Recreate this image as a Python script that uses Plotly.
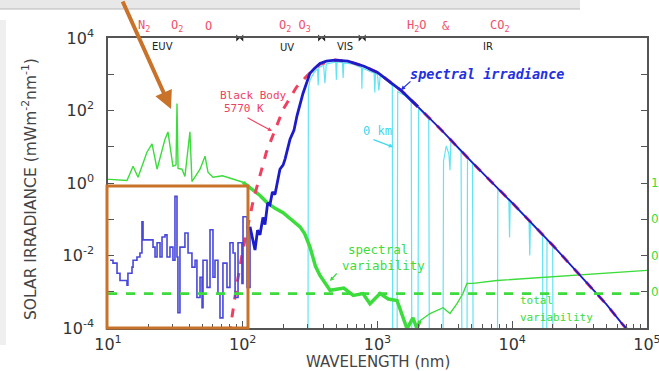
import numpy as np
import plotly.graph_objects as go

# ---------------- data (log10 wavelength [nm], log10 irradiance [mW m-2 nm-1]) ----------------
euv_log_wl = [1.015, 1.037, 1.067, 1.089, 1.141, 1.148, 1.178, 1.186, 1.215, 1.237,
              1.252, 1.260, 1.289, 1.312, 1.334, 1.349, 1.364, 1.386, 1.401, 1.423,
              1.438, 1.460, 1.482, 1.497, 1.512, 1.519, 1.534, 1.571, 1.594, 1.623,
              1.646, 1.660, 1.683, 1.698, 1.705, 1.735, 1.757, 1.779, 1.794, 1.816,
              1.831, 1.853, 1.883, 1.905, 1.928, 1.943, 1.965, 1.994, 2.002, 2.032, 2.054]
euv_log_irr = [-2.13, -2.21, -2.49, -2.69, -2.82, -2.49, -2.32, -2.13, -2.04, -1.93,
               -1.07, -1.57, -1.57, -1.57, -1.77, -2.04, -1.65, -2.04, -1.49, -1.43,
               -2.04, -1.77, -2.13, -0.37, -2.04, -3.58, -1.77, -1.38, -1.93, -2.32,
               -2.13, -3.16, -2.60, -3.44, -2.13, -2.88, -1.29, -2.60, -2.13, -3.05,
               -3.72, -2.21, -2.88, -1.65, -1.93, -3.16, -1.65, -2.77, -0.93, -2.88, -1.21]

irr_log_wl = [2.054, 2.075, 2.091, 2.11, 2.128, 2.15, 2.165, 2.185, 2.202, 2.22,
              2.239, 2.276, 2.30, 2.314, 2.351, 2.38, 2.403, 2.447, 2.499, 2.53,
              2.573, 2.62, 2.685, 2.78, 2.9, 3.0, 3.176, 3.301, 3.477, 3.699,
              4.0, 4.301, 4.477, 4.699, 4.814, 5.0]
irr_log_val = [-1.21, -1.60, -1.85, -1.30, -1.43, -0.95, -1.15, -0.55, -0.60, -0.25,
               -0.32, 0.38, 0.50, 0.66, 1.21, 1.45, 1.86, 2.47, 3.03, 3.15,
               3.30, 3.36, 3.39, 3.36, 3.22, 3.05, 2.55, 2.10, 1.45, 0.58,
               -0.55, -1.72, -2.45, -3.35, -3.88, -4.65]

bb_log_wl = [1.881, 1.903, 1.929, 1.954, 2.0, 2.079, 2.176, 2.254, 2.301, 2.398,
             2.477, 2.573, 2.685, 2.78, 2.9, 3.0, 3.176, 3.301, 3.477, 3.699,
             4.0, 4.301, 4.477, 4.699, 4.814, 5.0]
bb_log_val = [-4.69, -4.10, -3.55, -2.85, -1.87, -0.46, 0.86, 1.60, 2.04, 2.64,
              2.96, 3.28, 3.39, 3.36, 3.22, 3.05, 2.55, 2.10, 1.45, 0.58,
              -0.55, -1.72, -2.45, -3.35, -3.88, -4.65]

surf_log_wl = [2.470, 2.484, 2.487, 2.50, 2.53, 2.555, 2.560, 2.565, 2.60, 2.610,
               2.620, 2.66, 2.690, 2.695, 2.700, 2.740, 2.745, 2.750, 2.82, 2.881,
               2.884, 2.888, 2.95, 2.975, 2.980, 2.985, 3.00, 3.010, 3.020, 3.08,
               3.110, 3.113, 3.145, 3.150, 3.20, 3.250, 3.255, 3.300, 3.305, 3.38,
               3.385, 3.486, 3.490, 3.510, 3.530, 3.538, 3.545, 3.620, 3.627, 3.664,
               3.668, 3.705, 3.710, 3.890, 3.893, 3.975, 3.980, 3.985, 4.125, 4.130,
               4.135, 4.225, 4.228, 4.255, 4.258, 4.30, 4.303, 5.0]
surf_log_val = [-5.0, -5.0, 2.60, 2.85, 3.05, 3.15, 2.70, 3.18, 3.25, 2.75,
                3.28, 3.32, 3.34, 2.85, 3.34, 3.32, 2.90, 3.31, 3.28, 3.18,
                2.60, 3.17, 3.08, 3.03, 2.50, 3.02, 2.99, 2.55, 2.96, 2.80,
                2.68, -5.0, -5.0, 2.52, 2.42, 2.25, -5.0, -5.0, 2.05, 1.76,
                -5.0, -5.0, 0.60, 1.02, 0.80, 0.35, 1.17, 0.86, -5.0, -5.0,
                0.70, 0.54, -5.0, -5.0, -0.17, -0.48, -1.5, -0.52, -1.06, -2.0,
                -1.10, -1.45, -5.0, -5.0, -1.57, -1.74, -5.0, -5.0]

var_log_wl = [1.0, 1.015, 1.141, 1.186, 1.223, 1.289, 1.327, 1.364, 1.423, 1.445,
              1.482, 1.505, 1.512, 1.52, 1.549, 1.571, 1.608, 1.623, 1.683, 1.720,
              1.742, 1.779, 1.85, 1.928, 2.002, 2.076, 2.13, 2.18, 2.24, 2.299,
              2.36, 2.425, 2.46, 2.499, 2.54, 2.573, 2.648, 2.75, 2.82, 2.892,
              2.944, 3.019, 3.08, 3.145, 3.219, 3.263, 3.293, 3.315, 3.390, 3.486,
              3.538, 3.590, 3.634, 3.664, 3.709, 3.887, 4.132, 4.377, 4.629, 5.0]
var_log_val = [0.10, 0.10, 0.07, 0.46, 0.16, 0.85, 1.08, 0.38, 1.21, 1.41,
               0.46, 0.50, 2.19, 0.40, 0.38, 0.18, 1.41, 0.04, 0.38, 0.74,
               0.30, 0.16, 0.20, 0.10, 0.02, -0.18, -0.35, -0.54, -0.70, -0.82,
               -1.00, -1.21, -1.40, -1.77, -2.30, -2.55, -2.96, -2.90, -3.10, -3.05,
               -3.33, -3.05, -3.20, -3.24, -4.02, -3.72, -4.02, -3.80, -3.60, -3.44,
               -3.60, -3.33, -3.05, -2.77, -2.77, -2.69, -2.63, -2.55, -2.49, -2.41]

total_variability = 8.9e-4
region_bounds_nm = [95, 385, 770]
y_tick_exp = [-4, -3, -2, -1, 0, 1, 2, 3, 4]
x_tick_exp = [1, 2, 3, 4, 5]
right_tick_exp = [3, 2, 1, 0, -1, -2, -3]
right_tick_text = ["", "", "", "1", "0", "0", "0"]

# ---------------- layout helpers ----------------
W, H = 659, 371
LM, RM, TM, BM = 108, 12, 38, 43
PW, PH = W - LM - RM, H - TM - BM


def px(x):
    return (x - LM) / PW


def py(y):
    return (H - BM - y) / PH


def tolin(a):
    return 10 ** np.array(a, dtype=float)


BLUE = "#1c1cc8"
EUVBLUE = "#4848da"
CYAN = "#62e4f4"
GREEN = "#3cdc3c"
RED = "#f04060"
ORANGE = "#c8722a"
MONO = "DejaVu Sans Mono"
SANS = "DejaVu Sans"

fig = go.Figure()

# 0 km spectrum
fig.add_trace(go.Scatter(x=tolin(surf_log_wl), y=tolin(surf_log_val), mode="lines",
                         line=dict(color=CYAN, width=1.2), showlegend=False))

# spectral variability (thin / thick / thin)
vl = np.array(var_log_wl)
vv = np.array(var_log_val)
for mask, w in [((vl <= 2.002), 1.4), ((vl >= 2.002) & (vl <= 3.315), 3.5), ((vl >= 3.315), 1.4)]:
    fig.add_trace(go.Scatter(x=tolin(vl[mask]), y=tolin(vv[mask]), mode="lines",
                             line=dict(color=GREEN, width=w), showlegend=False))

# black body (under blue)
fig.add_trace(go.Scatter(x=tolin(bb_log_wl), y=tolin(bb_log_val), mode="lines",
                         line=dict(color=RED, width=3, dash="dash"), showlegend=False))

# EUV irradiance (stairs)
fig.add_trace(go.Scatter(x=tolin(euv_log_wl), y=tolin(euv_log_irr), mode="lines",
                         line=dict(color=EUVBLUE, width=1.6, shape="hv"), showlegend=False))

# spectral irradiance
il = np.array(irr_log_wl)
iv = np.array(irr_log_val)
m1 = il <= 3.301
m2 = il >= 3.301
fig.add_trace(go.Scatter(x=tolin(il[m1]), y=tolin(iv[m1]), mode="lines",
                         line=dict(color=BLUE, width=2.8), showlegend=False))
fig.add_trace(go.Scatter(x=tolin(il[m2]), y=tolin(iv[m2]), mode="lines",
                         line=dict(color=BLUE, width=1.8), showlegend=False))

# total variability (on right axis)
fig.add_trace(go.Scatter(x=[10, 1e5], y=[total_variability, total_variability], mode="lines",
                         line=dict(color=GREEN, width=2.6, dash="dash"), yaxis="y2",
                         showlegend=False))

# region dividers on top axis
fig.add_trace(go.Scatter(x=region_bounds_nm, y=[1e4] * len(region_bounds_nm), mode="markers",
                         marker=dict(symbol="bowtie", size=7, color="#222"),
                         cliponaxis=False, showlegend=False))

# ---------------- annotations ----------------
ann = []


def txt(t, x, y, color, size, family=MONO, xanchor="center", style="normal", weight="normal"):
    ann.append(dict(text=t, x=px(x), y=py(y), xref="paper", yref="paper", showarrow=False,
                    xanchor=xanchor, yanchor="middle",
                    font=dict(color=color, size=size, family=family, style=style, weight=weight)))


def arrow(x0, y0, x1, y1, color, width=1.2, head=2, size=0.7):
    ann.append(dict(text="", x=px(x1), y=py(y1), xref="paper", yref="paper", showarrow=True,
                    ax=x0 - x1, ay=y0 - y1, arrowcolor=color, arrowwidth=width,
                    arrowhead=head, arrowsize=size))


LRED = "#f0506a"
for t, x in [("N<sub>2</sub>", 144), ("O<sub>2</sub>", 177), ("O", 208),
             ("O<sub>2</sub> O<sub>3</sub>", 295), ("H<sub>2</sub>O", 417), ("&", 446),
             ("CO<sub>2</sub>", 500)]:
    txt(t, x, 26, LRED, 12)

for t, x, y in [("EUV", 162, 47), ("UV", 287, 48), ("VIS", 345, 47), ("IR", 488, 46)]:
    txt(t, x, y, "#222", 10, family=SANS)

txt("spectral irradiance", 487, 74, "#2230e0", 13.5, style="italic", weight="bold")
arrow(412, 80, 401, 90, "#2230e0")
txt("Black Body", 253, 96, RED, 11)
txt("5770 K", 244, 108, RED, 11)
arrow(246, 117, 272, 131, RED)
txt("0 km", 377, 131, "#40d8ec", 12)
arrow(372, 139, 393, 147, "#40d8ec")
txt("spectral", 378, 249, GREEN, 12.5)
txt("variability", 383, 265, GREEN, 12.5)
arrow(338, 272, 330, 281, GREEN)
txt("total", 518, 300, GREEN, 11, xanchor="left")
txt("variability", 518, 317, GREEN, 11, xanchor="left")

ann.append(dict(text="SOLAR IRRADIANCE (mWm<sup>-2</sup>nm<sup>-1</sup>)", x=px(29), y=py(189),
                xref="paper", yref="paper", showarrow=False, textangle=-90,
                xanchor="center", yanchor="middle",
                font=dict(color="#444", size=15.5, family=SANS)))
ann.append(dict(text="WAVELENGTH (nm)", x=px(378), y=py(362), xref="paper", yref="paper",
                showarrow=False, xanchor="center", yanchor="middle",
                font=dict(color="#444", size=15, family=SANS)))

# big orange pointer arrow
ann.append(dict(text="", x=px(171), y=py(109), xref="paper", yref="paper", showarrow=True,
                ax=122 - 171, ay=-4 - 109, arrowcolor=ORANGE, arrowwidth=4,
                arrowhead=2, arrowsize=0.9))

shapes = [
    dict(type="rect", xref="paper", yref="paper", x0=px(0), x1=px(580), y0=py(9), y1=py(0),
         fillcolor="#e8e8e8", line=dict(width=0), layer="below"),
    dict(type="line", xref="paper", yref="paper", x0=px(0), x1=px(580), y0=py(9), y1=py(9),
         line=dict(color="#b8b8b8", width=1)),
    dict(type="rect", xref="paper", yref="paper", x0=px(0), x1=px(6), y0=py(345), y1=py(20),
         fillcolor="#efefef", line=dict(width=0), layer="below"),
    dict(type="rect", xref="paper", yref="paper", x0=px(107), x1=px(248), y0=py(328), y1=py(186),
         line=dict(color=ORANGE, width=3), fillcolor="rgba(0,0,0,0)", layer="above"),
]

minor_x = [m * 10 ** e for e in range(1, 5) for m in range(2, 10)]

fig.update_layout(
    width=W, height=H, margin=dict(l=LM, r=RM, t=TM, b=BM, autoexpand=False),
    paper_bgcolor="white", plot_bgcolor="white",
    showlegend=False, annotations=ann, shapes=shapes,
    xaxis=dict(type="log", range=[1, 5], showgrid=False, zeroline=False, automargin=False,
               showline=True, linecolor="#555", linewidth=1.5, mirror=True,
               ticks="inside", ticklen=7, tickcolor="#555", tickwidth=1.2,
               tickvals=[10 ** e for e in x_tick_exp],
               ticktext=["10<sup>%d</sup>" % e for e in x_tick_exp],
               tickfont=dict(size=16, color="#333", family=SANS),
               ticklabelstandoff=1, ticklabeloverflow="allow",
               minor=dict(ticks="inside", ticklen=4, tickcolor="#555", tickvals=minor_x)),
    yaxis=dict(type="log", range=[-4, 4], showgrid=False, zeroline=False, automargin=False,
               showline=True, linecolor="#555", linewidth=1.5, mirror=True,
               ticks="inside", ticklen=6, tickcolor="#555", tickwidth=1.2,
               tickvals=[10.0 ** e for e in y_tick_exp],
               ticktext=["10<sup>%d</sup>" % e if e % 2 == 0 else "" for e in y_tick_exp],
               tickfont=dict(size=16, color="#333", family=SANS),
               ticklabelstandoff=9, ticklabeloverflow="allow"),
    yaxis2=dict(type="log", range=[-4, 4], overlaying="y", side="right", automargin=False,
                showgrid=False, zeroline=False, showline=False,
                ticks="inside", ticklen=6, tickcolor="#555", tickwidth=1.2,
                tickvals=[10.0 ** e for e in right_tick_exp], ticktext=right_tick_text,
                tickfont=dict(size=12, color=GREEN, family=SANS), ticklabelstandoff=3,
                ticklabeloverflow="allow"),
)

fig.write_html("out.html", config={"displayModeBar": False},
               post_script="document.body.style.margin='0px';")
